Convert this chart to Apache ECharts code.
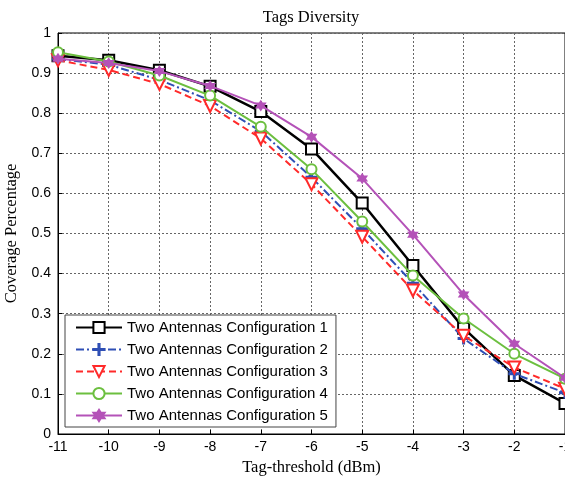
<!DOCTYPE html>
<html>
<head>
<meta charset="utf-8">
<script src="https://cdn.jsdelivr.net/npm/echarts@6/dist/echarts.min.js"></script>
<style>html,body{margin:0;padding:0;background:#fff}#c{width:565px;height:478px}</style>
</head>
<body>
<div id="c"></div>
<script>
const thresholds = [-11, -10, -9, -8, -7, -6, -5, -4, -3, -2, -1];
const seriesNames = [
  'Two Antennas Configuration 1',
  'Two Antennas Configuration 2',
  'Two Antennas Configuration 3',
  'Two Antennas Configuration 4',
  'Two Antennas Configuration 5'
];
const config1 = [0.943, 0.932, 0.907, 0.867, 0.804, 0.711, 0.576, 0.420, 0.264, 0.146, 0.076];
const config2 = [0.935, 0.921, 0.883, 0.832, 0.755, 0.640, 0.512, 0.376, 0.238, 0.150, 0.103];
const config3 = [0.932, 0.908, 0.873, 0.818, 0.737, 0.623, 0.492, 0.358, 0.245, 0.166, 0.113];
const config4 = [0.952, 0.929, 0.894, 0.844, 0.766, 0.660, 0.530, 0.395, 0.288, 0.200, 0.138];
const config5 = [0.936, 0.925, 0.905, 0.868, 0.819, 0.741, 0.637, 0.497, 0.348, 0.225, 0.140];

const pairs = arr => arr.map((v, i) => [thresholds[i], v]);
const sans = 'Liberation Sans, Arial, sans-serif';
const serif = 'Liberation Serif, Times New Roman, serif';
const plusPath = 'path://M-1,-10 L1,-10 L1,-1 L10,-1 L10,1 L1,1 L1,10 L-1,10 L-1,1 L-10,1 L-10,-1 L-1,-1Z';
const starPath = 'path://M0,-10 L2.9,-5 L8.7,-5 L5.8,0 L8.7,5 L2.9,5 L0,10 L-2.9,5 L-8.7,5 L-5.8,0 L-8.7,-5 L-2.9,-5Z';

const styles = [
  {color: '#000000', width: 2.5, type: 'solid', symbol: 'emptyRect', size: 11, rotate: 0},
  {color: '#2f4fb5', width: 2, type: [8, 3, 2, 3], symbol: plusPath, size: 10, rotate: 0},
  {color: '#ff2a2a', width: 2, type: [7, 4], symbol: 'emptyTriangle', size: 12, rotate: 180},
  {color: '#6cbf3f', width: 2, type: 'solid', symbol: 'emptyCircle', size: 10, rotate: 0},
  {color: '#b452b8', width: 2, type: 'solid', symbol: starPath, size: 8, rotate: 0}
];
const dataSets = [config1, config2, config3, config4, config5];

const chart = echarts.init(document.getElementById('c'), null, {renderer: 'canvas'});
chart.setOption({
  animation: false,
  backgroundColor: '#fff',
  title: {
    text: 'Tags Diversity',
    left: 311, top: 9, textAlign: 'center', padding: 0,
    textStyle: {fontFamily: serif, fontSize: 16.5, fontWeight: 'normal', color: '#000'}
  },
  grid: {left: 58, right: 0, top: 33, bottom: 44, show: true, borderColor: '#000', borderWidth: 1,
         outerBoundsMode: 'none', containLabel: false},
  legend: {
    orient: 'vertical', left: 65, top: 315,
    padding: [5, 8, 4, 10], itemGap: 7, itemWidth: 46, itemHeight: 14,
    borderColor: '#444', borderWidth: 1, backgroundColor: '#fff',
    textStyle: {fontFamily: sans, fontSize: 15, color: '#000'},
    data: seriesNames
  },
  xAxis: {
    type: 'value', min: -11, max: -1, interval: 1,
    name: 'Tag-threshold (dBm)', nameLocation: 'middle', nameGap: 24,
    nameTextStyle: {fontFamily: serif, fontSize: 16.5, color: '#000'},
    axisLine: {lineStyle: {color: '#000'}},
    axisTick: {inside: true, length: 4, lineStyle: {color: '#000'}},
    axisLabel: {fontFamily: sans, fontSize: 14, color: '#000', margin: 6},
    splitLine: {show: true, lineStyle: {color: '#666', type: [2, 2], width: 1}}
  },
  yAxis: {
    type: 'value', min: 0, max: 1, interval: 0.1,
    name: 'Coverage Percentage', nameLocation: 'middle', nameGap: 30,
    nameTextStyle: {fontFamily: serif, fontSize: 16.5, color: '#000'},
    axisLine: {lineStyle: {color: '#000'}},
    axisTick: {inside: true, length: 4, lineStyle: {color: '#000'}},
    axisLabel: {fontFamily: sans, fontSize: 14, color: '#000', margin: 7},
    splitLine: {show: true, lineStyle: {color: '#666', type: [2, 2], width: 1}}
  },
  series: dataSets.map((d, i) => ({
    name: seriesNames[i],
    type: 'line',
    data: pairs(d),
    symbol: styles[i].symbol,
    symbolSize: styles[i].size,
    symbolRotate: styles[i].rotate,
    showAllSymbol: true,
    clip: false,
    z: 2 + i,
    lineStyle: {color: styles[i].color, width: styles[i].width, type: styles[i].type},
    itemStyle: {color: styles[i].color, borderColor: styles[i].color, borderWidth: 2}
  }))
});
</script>
</body>
</html>
